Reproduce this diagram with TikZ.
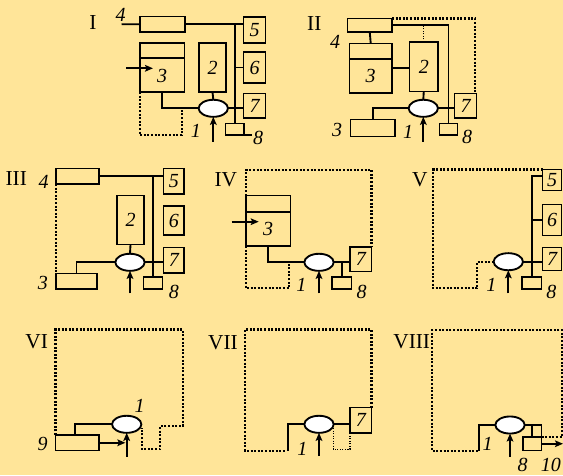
\documentclass[tikz,border=0pt]{standalone}
\usepackage{fontspec}
\setmainfont{Liberation Serif}
\usetikzlibrary{shapes.geometric,arrows.meta}
\definecolor{bg}{HTML}{FFE599}
\tikzset{
 ln/.style={line width=1.4pt},
 bx/.style={draw, line width=1.4pt, inner sep=0pt, outer sep=0pt, font=\fontsize{15}{15}\selectfont\itshape},
 ell/.style={ellipse, draw, fill=white, line width=1.4pt, minimum width=22pt, minimum height=12.8pt, inner sep=0pt, outer sep=0pt},
 dotl/.style={line width=1.7pt, dash pattern=on 1.5pt off 1.2pt},
 thindot/.style={line width=0.8pt, dash pattern=on 0.8pt off 1.1pt},
 arr/.style={line width=1.4pt, -{Stealth[length=6pt,width=5pt,inset=1.2pt]}},
 num/.style={font=\fontsize{15}{15}\selectfont\itshape, inner sep=0pt},
 lab/.style={num, anchor=base},
 rom/.style={font=\fontsize{16}{16}\selectfont, inner sep=0pt, anchor=base},
}
\newcommand\bx[6]{%
  \pgfmathsetmacro\bxw{(#4-#2)*0.75}%
  \pgfmathsetmacro\bxh{(#5-#3)*0.75}%
  \node[bx, minimum width=\bxw pt, minimum height=\bxh pt] (#1) at ({(#2+#4)/2},{(#3+#5)/2}) {#6};}
\begin{document}
\begin{tikzpicture}[x=0.75pt,y=-0.75pt]
\fill[bg] (0,0) rectangle (563,475);
\useasboundingbox (0,0) rectangle (563,475);

% ---------------- Panel I
\bx{Ib4}{140}{16.5}{185}{32}{}
\bx{Ib5}{243.5}{17}{265.5}{43}{5}
\bx{Ib6}{243.5}{52}{265.5}{83}{6}
\bx{Ib7}{243.5}{93.5}{265.5}{118}{7}
\bx{Ib8}{225.5}{123.5}{244}{135}{}
\bx{Ib2}{199}{43}{226}{92}{2}
\bx{Ib3}{140}{43}{184.5}{92}{}
\node[ell] (I1) at (213.3,108.3) {};
\draw[ln] (Ib3.west |- 0,58.3) -- (Ib3.east |- 0,58.3);
\node[num] (Il3) at (162.2,75.5) {3};
\coordinate (I4s) at (121.5,24.3);
\draw[ln] (I4s) -- (Ib4.west);
\draw[ln] (Ib4.east) -- (Ib4.east -| Ib5.west);
\draw[ln] (Ib8.north) -- (Ib8.north |- Ib4.east);
\draw[ln] (Ib6.west) -- (Ib6.west -| Ib8.north);
\draw[ln] (I1.east) -- (I1.east -| Ib7.west);
\draw[ln] (Ib2.south) -- (I1.north);
\draw[ln] (Ib3.south) |- (I1.west);
\coordinate (Ij) at (181.7,108.3);
\draw[dotl] (Ib3.south west) -- (Ib3.south west |- 0,135) -| (Ij);
\coordinate (I3a) at (126,68.3);
\draw[arr] (I3a) -- ++(27,0);
\draw[arr] (I1.south |- 0,141.7) -- (I1.south);
\coordinate (I8l) at (251.7,135);
\draw[ln] (Ib8.south east) -- (I8l);
\node[rom] (IR) at (93,29.3) {I};
\node[lab] (Il4) at (120.5,21.7) {4};
\node[lab] (Il1) at (195.8,137.3) {1};
\node[lab] (Il8) at (258,144) {8};

% ---------------- Panel II
\bx{IIb4}{347.5}{18.5}{392}{32}{}
\bx{IIb3}{349.5}{43.5}{392}{93}{}
\bx{IIb2}{409.5}{42}{438}{91.5}{2}
\bx{IIb7}{454.5}{93.5}{476.5}{118}{7}
\bx{IIb8}{439.5}{123.5}{457.5}{135}{}
\bx{IIc3}{350.5}{119.5}{395}{136.5}{}
\node[ell] (II1) at (423.3,108.3) {};
\draw[ln] (IIb3.west |- 0,59) -- (IIb3.east |- 0,59);
\node[num] (IIl3) at (370.7,76) {3};
\draw[ln] (IIb4.south) -- (IIb3.north);
\draw[ln] (IIb3.east) -- (IIb3.east -| IIb2.west);
\draw[ln] (IIb4.east) -| (IIb8.north);
\draw[thindot] (IIb2.north) -- (IIb2.north |- IIb4.east);
\coordinate (IIc) at (475,93.5);
\draw[dotl] (IIb4.north east) -| (IIc);
\draw[ln] (IIb2.south) -- (II1.north);
\draw[ln] (II1.east) -- (II1.east -| IIb7.west);
\draw[ln] (II1.west) -| (IIc3.north);
\draw[arr] (II1.south |- 0,141.7) -- (II1.south);
\node[rom] (IIR) at (314.3,30) {II};
\node[lab] (IIl4) at (335,48.3) {4};
\node[lab] (IIl3b) at (337,136.7) {3};
\node[lab] (IIl1) at (408,138.3) {1};
\node[lab] (IIl8) at (467,143.3) {8};

% ---------------- Panel III
\bx{IIIb4}{56}{168.5}{99}{184}{}
\bx{IIIb5}{163.5}{168.5}{184}{194}{5}
\bx{IIIb6}{163.5}{206}{184}{235}{6}
\bx{IIIb7}{163.5}{247.5}{184}{273}{7}
\bx{IIIb8}{143.5}{277}{162.5}{289}{}
\bx{IIIb2}{117}{195.5}{144}{244.5}{2}
\bx{IIIb3}{56}{273.5}{97}{289}{}
\node[ell] (III1) at (130,262.3) {};
\draw[ln] (IIIb4.east) -- (IIIb4.east -| IIIb5.west);
\draw[ln] (IIIb8.north) -- (IIIb8.north |- IIIb4.east);
\draw[ln] (IIIb2.south) -- (III1.north);
\draw[ln] (III1.east) -- (III1.east -| IIIb7.west);
\draw[ln] (III1.west) -| (IIIb3.north);
\draw[dotl] (IIIb4.south west) -- (IIIb3.north west);
\draw[arr] (III1.south |- 0,293.3) -- (III1.south);
\node[rom] (IIIR) at (16.3,185) {III};
\node[lab] (IIIl4) at (43.5,188) {4};
\node[lab] (IIIl3) at (42.8,289.3) {3};
\node[lab] (IIIl8) at (173.8,298.3) {8};

% ---------------- Panel IV
\bx{IVb3}{246}{195.5}{290.5}{246}{}
\bx{IVb7}{350}{247}{371.5}{271.5}{7}
\bx{IVb8}{332}{277}{351.5}{289}{}
\node[ell] (IV1) at (319,262.3) {};
\draw[ln] (IVb3.west |- 0,211.7) -- (IVb3.east |- 0,211.7);
\node[num] (IVl3) at (268.2,229) {3};
\coordinate (IVtr) at (371.5,170);
\draw[dotl] (IVb3.north west) |- (IVtr) -- (IVb7.north east);
\coordinate (IV3a) at (231.7,221.7);
\draw[arr] (IV3a) -- ++(27,0);
\draw[ln] (IVb3.south) |- (IV1.west);
\coordinate (IVj) at (289,262.3);
\draw[dotl] (IVb3.south west) -- (IVb3.south west |- 0,288.3) -| (IVj);
\draw[ln] (IV1.east) -- (IV1.east -| IVb7.west);
\draw[ln] (IVb8.north) -- (IVb8.north |- IV1.east);
\draw[arr] (IV1.south |- 0,293.3) -- (IV1.south);
\node[rom] (IVR) at (225.8,186.7) {IV};
\node[lab] (IVl1) at (301.3,291.7) {1};
\node[lab] (IVl8) at (361.7,298.3) {8};

% ---------------- Panel V
\bx{Vb5}{542.5}{169.5}{561.5}{190.5}{5}
\bx{Vb6}{542.5}{204.5}{561.5}{235.5}{6}
\bx{Vb7}{542.5}{247.5}{561.5}{270.5}{7}
\bx{Vb8}{522}{277}{541.5}{289}{}
\node[ell] (V1) at (508.3,261.7) {};
\coordinate (Vtl) at (433.3,169.5);
\coordinate (Vk) at (477.3,288.3);
\draw[dotl] (Vb5.north west) -- (Vtl) |- (Vk) |- (V1.west);
\coordinate (V5j) at (542.5,175.7);
\draw[ln] (V5j) -| (Vb8.north);
\draw[ln] (Vb6.west) -- (Vb6.west -| Vb8.north);
\draw[ln] (V1.east) -- (V1.east -| Vb7.west);
\draw[arr] (V1.south |- 0,293.3) -- (V1.south);
\node[rom] (VR) at (419.7,186.7) {V};
\node[lab] (Vl1) at (491.3,291.7) {1};
\node[lab] (Vl8) at (551.3,298.3) {8};

% ---------------- Panel VI
\bx{VIb9}{55.5}{435}{99}{450.5}{}
\node[ell] (VI1) at (126.7,424.3) {};
\draw[dotl] (VIb9.north west) -- (55.5,329.5) -- (182.7,329.5) -- (182.7,426) -- (160,426) -- (160,449) -- (141.7,449) -- (141.7,428);
\coordinate (VIj) at (75,435);
\draw[ln] (VIj) |- (VI1.west);
\draw[arr, shorten >=1pt] (VIb9.east) -- (VIb9.east -| VI1.south);
\draw[arr] (VI1.south |- 0,456.7) -- (VI1.south);
\node[rom] (VIR) at (36.7,348.3) {VI};
\node[lab] (VIl9) at (42.5,450) {9};
\node[lab] (VIl1) at (139.5,412.7) {1};

% ---------------- Panel VII
\bx{VIIb7}{350}{407.5}{371.5}{433}{7}
\node[ell] (VII1) at (319,424.3) {};
\draw[dotl] (VIIb7.north east) -- (371.5,329.5) -- (245,329.5) -- (245,450.7) -- (285,450.7);
\coordinate (VIIj) at (288.3,450.5);
\draw[ln] (VIIj) |- (VII1.west);
\coordinate (VIIs) at (333.3,428);
\draw[thindot] (VIIs) -- (333.3,449.3) -| (VIIb7.south west);
\draw[ln] (VII1.east) -- (VII1.east -| VIIb7.west);
\draw[arr] (VII1.south |- 0,456) -- (VII1.south);
\node[rom] (VIIR) at (223,349.3) {VII};
\node[lab] (VIIl1) at (302.3,455) {1};

% ---------------- Panel VIII
\bx{VIIIb}{523}{437}{541.5}{450.5}{}
\node[ell] (VIII1) at (510,425) {};
\draw[dotl] (VIIIb.north east) -- (561.7,437) -- (561.7,330) -- (432.3,330) -- (432.3,451) -- (478.3,451);
\coordinate (VIIIj) at (479,450.5);
\draw[ln] (VIIIj) |- (VIII1.west);
\draw[ln] (VIII1.east) -| (VIIIb.north east);
\draw[ln] (VIIIb.north |- VIII1.east) -- (VIIIb.north);
\coordinate (VIIIo) at (563,443.75);
\draw[arr] (VIIIb.east) -- (VIIIo);
\draw[arr] (VIII1.south |- 0,456.7) -- (VIII1.south);
\node[rom] (VIIIR) at (411.7,348) {VIII};
\node[lab] (VIIIl1) at (487.5,450) {1};
\node[lab] (VIIIl8) at (522.5,471.5) {8};
\node[lab, anchor=base west] (VIIIl10) at (540.5,471.5) {10};
\end{tikzpicture}
\end{document}
